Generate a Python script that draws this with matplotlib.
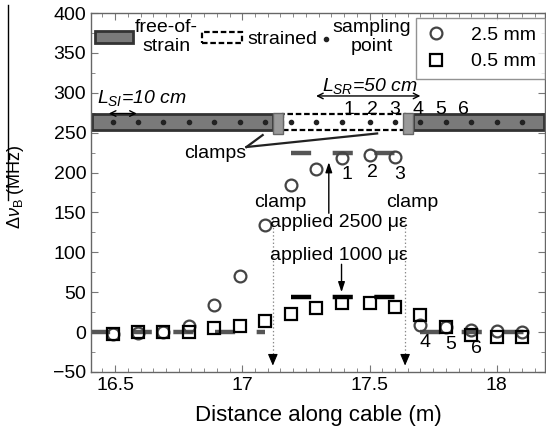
import matplotlib
matplotlib.use("Agg")
import matplotlib.pyplot as plt
from matplotlib.patches import Rectangle
from matplotlib.lines import Line2D
from matplotlib.ticker import MultipleLocator

plt.rcParams['font.family'] = ['Liberation Sans', 'DejaVu Sans']
plt.rcParams['mathtext.fontset'] = 'custom'
plt.rcParams['mathtext.rm'] = 'Liberation Sans'
plt.rcParams['mathtext.it'] = 'Liberation Sans:italic'
plt.rcParams['mathtext.bf'] = 'Liberation Sans:bold'
plt.rcParams['lines.scale_dashes'] = False

# Sampling positions along the cable (m)
positions = [16.49, 16.59, 16.69, 16.79, 16.89, 16.99, 17.09, 17.19, 17.29,
             17.39, 17.50, 17.60, 17.70, 17.80, 17.90, 18.00, 18.10]
# Brillouin frequency shift (MHz)
shift_25mm = [-2, -1, 0, 7.5, 34, 70, 134, 185, 205, 218, 222, 219, 9, 6, 3, 1, 0]
shift_05mm = [-2, 0, 0, 0, 5, 8, 14, 23, 30, 36, 36, 32, 22, 6, -4, -6, -6]

# Expected shift profile
free_left_x = [16.40, 17.09]
free_right_x = [17.70, 18.19]
strained_x = [17.19, 17.62]
expected_25mm = 224
expected_05mm = 44

# Cable sketch geometry
clamp_left = 17.12
clamp_right = 17.64
point_labels = ['1', '2', '3', '4', '5', '6']
point_label_x = [17.42, 17.51, 17.60, 17.69, 17.78, 17.87]
result_label_xy = [(17.41, 197), (17.51, 200), (17.62, 197),
                   (17.72, -13), (17.82, -15), (17.92, -20)]

fig = plt.figure(figsize=(5.46, 4.38), dpi=100)
ax = fig.add_axes([91 / 546, 66 / 438, 454 / 546, 359 / 438])
ax.set_xlim(16.405, 18.19)
ax.set_ylim(-50, 400)

gray = '#555555'
dash = (0, (14.5, 15.5))
for xs in (free_left_x, free_right_x):
    ax.plot(xs, [0, 0], color=gray, lw=3.2, linestyle=dash,
            dash_capstyle='butt', zorder=2)
ax.plot(strained_x, [expected_25mm] * 2, color=gray, lw=3.2, linestyle=dash,
        dash_capstyle='butt', zorder=2)
ax.plot(strained_x, [expected_05mm] * 2, color='black', lw=3.2, linestyle=dash,
        dash_capstyle='butt', zorder=2)

ax.plot(positions, shift_25mm, 'o', mfc='none', mec='#444444', mew=1.6, ms=8.5,
        linestyle='none', label='2.5 mm', zorder=3)
ax.plot(positions, shift_05mm, 's', mfc='none', mec='black', mew=1.6, ms=8,
        linestyle='none', label='0.5 mm', zorder=4)

# Cable sketch
band_lo, band_hi = 253, 274
ax.add_patch(Rectangle((16.41, band_lo), clamp_left - 16.41, band_hi - band_lo,
                       facecolor='#7a7a7a', edgecolor='#333333', lw=2, zorder=2))
ax.add_patch(Rectangle((clamp_right + 0.03, band_lo), 18.19 - clamp_right - 0.035,
                       band_hi - band_lo, facecolor='#7a7a7a', edgecolor='#333333',
                       lw=2, zorder=2, clip_on=False))
ax.add_patch(Rectangle((clamp_left + 0.04, band_lo), clamp_right - clamp_left - 0.04,
                       band_hi - band_lo, facecolor='white', edgecolor='black',
                       lw=1.6, linestyle=(0, (4, 2)), zorder=2))
for cx in (clamp_left, clamp_right - 0.01):
    ax.add_patch(Rectangle((cx, 248), 0.04, 27, facecolor='#9a9a9a',
                           edgecolor='#666666', lw=1, zorder=3))
ax.plot(positions, [263.5] * len(positions), 'o', color='#222222', ms=3,
        linestyle='none', zorder=4)
for lab, lx in zip(point_labels, point_label_x):
    ax.text(lx, 279, lab, fontsize=14, ha='center', va='center')

ax.annotate('', xy=(16.475, 274), xytext=(16.585, 274),
            arrowprops=dict(arrowstyle='<->', lw=1, color='black',
                            shrinkA=0, shrinkB=0))
ax.text(16.43, 294, r'$L_{SI}$=10 cm', fontsize=14, style='italic',
        ha='left', va='center')
ax.annotate('', xy=(17.29, 296), xytext=(17.70, 296),
            arrowprops=dict(arrowstyle='<->', lw=1, color='black',
                            shrinkA=0, shrinkB=0))
ax.text(17.50, 309, r'$L_{SR}$=50 cm', fontsize=14, style='italic',
        ha='center', va='center')

# Sketch legend
ax.add_patch(Rectangle((16.42, 362), 0.15, 15, facecolor='#7a7a7a',
                       edgecolor='#333333', lw=2, zorder=3))
ax.text(16.70, 370, 'free-of-\nstrain', fontsize=14, ha='center', va='center',
        linespacing=1.15)
ax.add_patch(Rectangle((16.84, 363), 0.16, 13, facecolor='white',
                       edgecolor='black', lw=1.6, linestyle=(0, (4, 2)), zorder=3))
ax.text(17.02, 367, 'strained', fontsize=14, ha='left', va='center')
ax.plot([17.33], [367], 'o', color='#222222', ms=3)
ax.text(17.51, 370, 'sampling\npoint', fontsize=14, ha='center', va='center',
        linespacing=1.15)

# Clamp pointer
vx, vy = 17.016, 232
ax.plot([vx, 17.08], [vy, 247], color='#222222', lw=1.6)
ax.plot([vx, 17.53], [vy, 249], color='#222222', lw=1.6)
ax.text(vx, 224, 'clamps', fontsize=14, ha='right', va='center')

# Clamp positions on the plot
for cx in (clamp_left, clamp_right):
    ax.plot([cx, cx], [140, -33], color='#888888', lw=0.9, linestyle=':')
    ax.annotate('', xy=(cx, -42), xytext=(cx, -30),
                arrowprops=dict(arrowstyle='-|>,head_length=0.7,head_width=0.3',
                                color='black', lw=0.8, shrinkA=0, shrinkB=0))
ax.text(17.15, 162, 'clamp', fontsize=14, ha='center', va='center')
ax.text(17.67, 162, 'clamp', fontsize=14, ha='center', va='center')

ax.text(17.38, 137, 'applied 2500 με', fontsize=14, ha='center', va='center')
ax.annotate('', xy=(17.34, 213), xytext=(17.34, 149),
            arrowprops=dict(arrowstyle='-|>,head_length=0.6,head_width=0.2',
                            color='black', lw=1, shrinkA=0, shrinkB=0))
ax.text(17.38, 96, 'applied 1000 με', fontsize=14, ha='center', va='center')
ax.annotate('', xy=(17.39, 50), xytext=(17.39, 85),
            arrowprops=dict(arrowstyle='-|>,head_length=0.6,head_width=0.2',
                            color='black', lw=1, shrinkA=0, shrinkB=0))

for lab, (lx, ly) in zip(['1', '2', '3', '4', '5', '6'], result_label_xy):
    ax.text(lx, ly, lab, fontsize=14, ha='center', va='center')

# Axes styling
ax.xaxis.set_major_locator(MultipleLocator(0.5))
ax.xaxis.set_minor_locator(MultipleLocator(0.05))
ax.yaxis.set_major_locator(MultipleLocator(50))
ax.yaxis.set_minor_locator(MultipleLocator(25))
ax.tick_params(which='both', direction='in', top=True, right=True,
               color='#777777', labelsize=14)
ax.tick_params(which='major', length=5)
ax.tick_params(which='minor', length=3)
ax.set_xticks([16.5, 17, 17.5, 18])
ax.set_xticklabels(['16.5', '17', '17.5', '18'])
for s in ax.spines.values():
    s.set_color('#666666')
    s.set_linewidth(1)
ax.set_xlabel('Distance along cable (m)', fontsize=16, labelpad=8)

fig.text(15 / 546, 1 - 187 / 438, r'$\Delta\nu_\mathrm{B}$ (MHz)', rotation=90,
         fontsize=13, ha='center', va='center')
fig.add_artist(Line2D([8 / 546, 8 / 546], [1 - 5 / 438, 1 - 200 / 438],
                      color='black', lw=1, transform=fig.transFigure))

leg = ax.legend(loc='upper right', bbox_to_anchor=(1.0, 0.987), fontsize=14,
                frameon=True, fancybox=False, edgecolor='#777777',
                handletextpad=1.2, borderpad=0.45, labelspacing=0.45,
                handlelength=1.2, borderaxespad=0)
leg.get_frame().set_linewidth(1)

fig.savefig('out.png', dpi=100)
